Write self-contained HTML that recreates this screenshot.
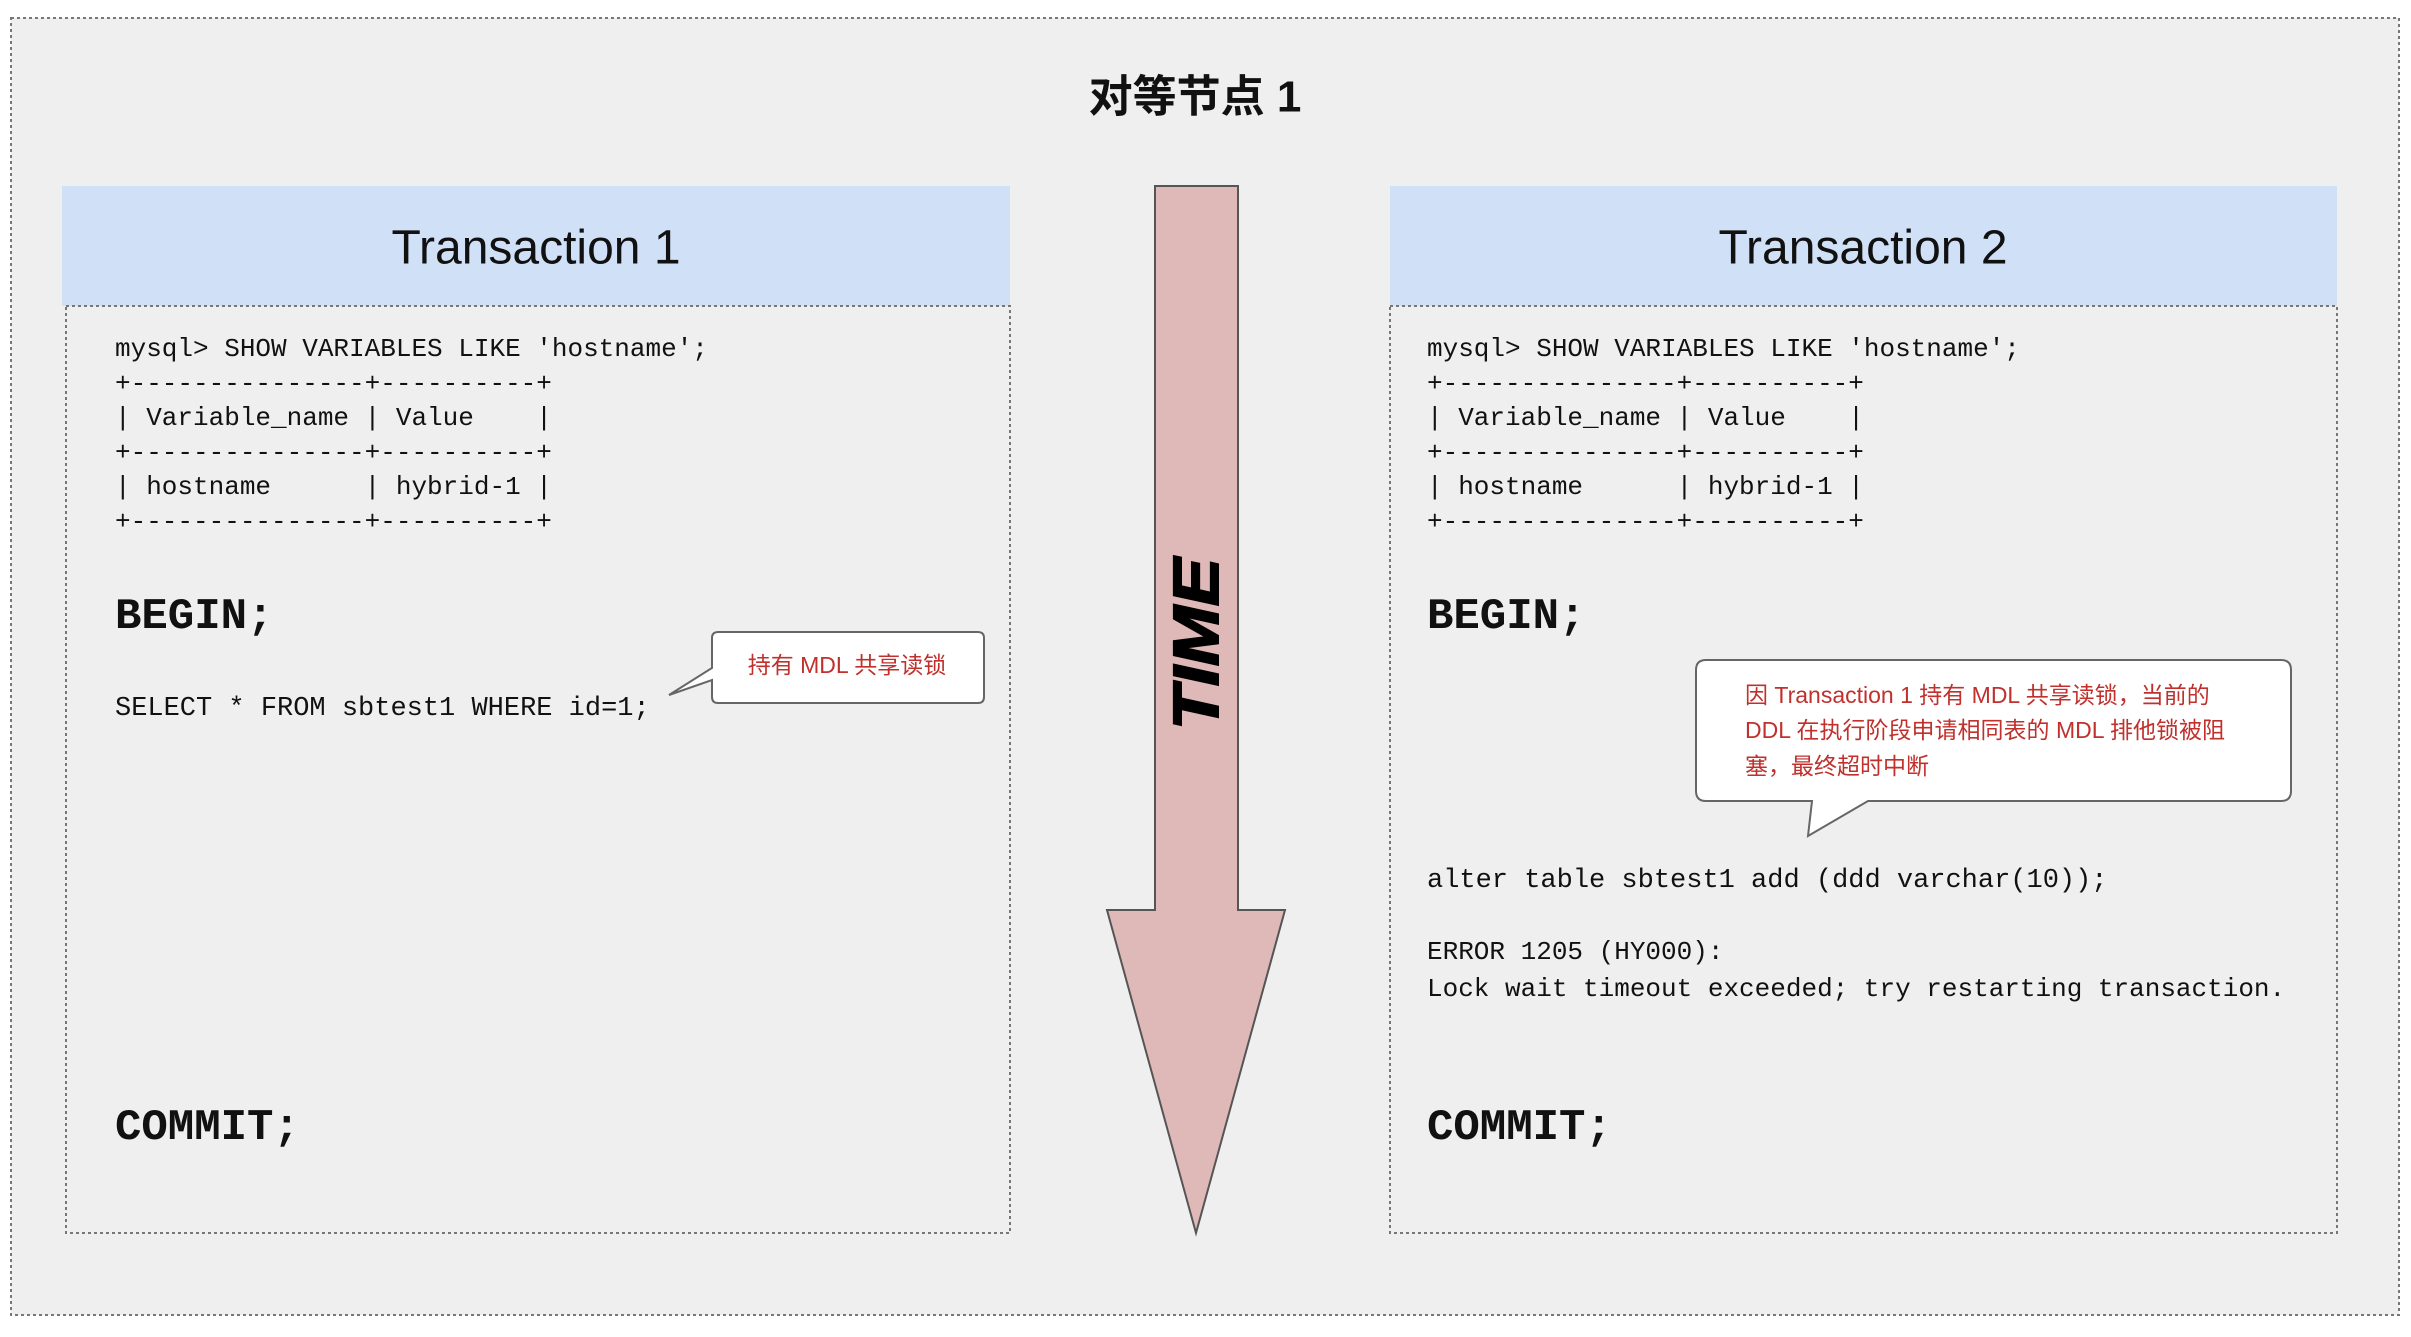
<!DOCTYPE html>
<html><head><meta charset="utf-8"><style>
html,body{margin:0;padding:0;background:#fff;width:2411px;height:1337px;overflow:hidden}
svg{display:block}
text{white-space:pre}
.m{font-family:"Liberation Mono",monospace;font-size:26px;fill:#111}
.b{font-family:"Liberation Mono",monospace;font-size:44px;fill:#111;font-weight:bold}
.h{font-family:"Liberation Sans","Noto Sans CJK SC",sans-serif;font-size:48px;fill:#111}
.r{font-family:"Liberation Sans","Noto Sans CJK SC",sans-serif;font-size:23px;fill:#c0302c}
</style></head><body>
<svg width="2411" height="1337" viewBox="0 0 2411 1337" xmlns="http://www.w3.org/2000/svg" xml:space="preserve">
<rect x="11" y="18" width="2388" height="1297" fill="#efefef" stroke="#777" stroke-width="2" stroke-dasharray="3,3"/>
<text x="1195" y="100" class="h" text-anchor="middle" dominant-baseline="middle" style="font-size:44px;font-weight:bold">对等节点 1</text>

<rect x="62" y="186" width="948" height="120" fill="#cfe0f7"/>
<text x="536" y="251" class="h" text-anchor="middle" dominant-baseline="middle">Transaction 1</text>
<rect x="66" y="306" width="944" height="927" fill="none" stroke="#777" stroke-width="2" stroke-dasharray="3,3"/>
<g class="m">
<text x="115" y="356">mysql&gt; SHOW VARIABLES LIKE 'hostname';</text>
<text x="115" y="391">+---------------+----------+</text>
<text x="115" y="425">| Variable_name | Value    |</text>
<text x="115" y="460">+---------------+----------+</text>
<text x="115" y="494">| hostname      | hybrid-1 |</text>
<text x="115" y="529">+---------------+----------+</text>
<text x="115" y="715" style="font-size:27px">SELECT * FROM sbtest1 WHERE id=1;</text>
</g>
<text x="115" y="628" class="b">BEGIN;</text>
<text x="115" y="1139" class="b">COMMIT;</text>
<path d="M718,632 H978 Q984,632 984,638 V697 Q984,703 978,703 H718 Q712,703 712,697 V680 L669,695 L712,668 V638 Q712,632 718,632 Z" fill="#fff" stroke="#666" stroke-width="2"/>
<text x="847" y="667" class="r" text-anchor="middle" dominant-baseline="middle">持有 MDL 共享读锁</text>

<polygon points="1155,186 1238,186 1238,910 1285,910 1196,1233 1107,910 1155,910" fill="#dfb8b8" stroke="#555" stroke-width="2"/>
<text transform="translate(1218,644) rotate(-90)" x="0" y="0" text-anchor="middle" font-family="Liberation Sans,sans-serif" font-weight="bold" font-style="italic" font-size="64" textLength="172" lengthAdjust="spacingAndGlyphs" fill="#000" stroke="#000" stroke-width="2">TIME</text>

<rect x="1390" y="186" width="947" height="120" fill="#cfe0f7"/>
<text x="1863" y="251" class="h" text-anchor="middle" dominant-baseline="middle">Transaction 2</text>
<rect x="1390" y="306" width="947" height="927" fill="none" stroke="#777" stroke-width="2" stroke-dasharray="3,3"/>
<g class="m">
<text x="1427" y="356">mysql&gt; SHOW VARIABLES LIKE 'hostname';</text>
<text x="1427" y="391">+---------------+----------+</text>
<text x="1427" y="425">| Variable_name | Value    |</text>
<text x="1427" y="460">+---------------+----------+</text>
<text x="1427" y="494">| hostname      | hybrid-1 |</text>
<text x="1427" y="529">+---------------+----------+</text>
<text x="1427" y="887" style="font-size:27px">alter table sbtest1 add (ddd varchar(10));</text>
<text x="1427" y="959">ERROR 1205 (HY000):</text>
<text x="1427" y="996">Lock wait timeout exceeded; try restarting transaction.</text>
</g>
<text x="1427" y="628" class="b">BEGIN;</text>
<text x="1427" y="1139" class="b">COMMIT;</text>
<path d="M1706,660 H2281 Q2291,660 2291,670 V791 Q2291,801 2281,801 H1868 L1808,836 L1812,801 H1706 Q1696,801 1696,791 V670 Q1696,660 1706,660 Z" fill="#fff" stroke="#666" stroke-width="2"/>
<g class="r">
<text x="1745" y="703">因 Transaction 1 持有 MDL 共享读锁，当前的</text>
<text x="1745" y="738">DDL 在执行阶段申请相同表的 MDL 排他锁被阻</text>
<text x="1745" y="774">塞，最终超时中断</text>
</g>
</svg>
</body></html>
